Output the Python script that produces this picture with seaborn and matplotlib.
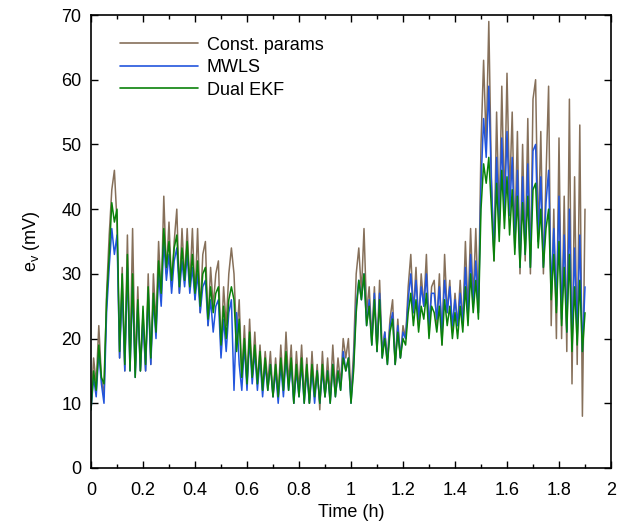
import numpy as np
import pandas as pd
import matplotlib
matplotlib.use("Agg")
import matplotlib.pyplot as plt
from matplotlib.ticker import MultipleLocator
import seaborn as sns

# Time axis (h), sampled every 0.01 h from 0 to 1.90
time_h = [round(i * 0.01, 2) for i in range(191)]

const_params = [
    9, 17, 13, 22, 14, 11, 27, 36, 43, 46, 38,
    17, 31, 15, 36, 16, 37, 15, 28, 15, 24,
    15, 30, 16, 30, 22, 35, 26, 42, 30, 38,
    28, 35, 40, 27, 37, 29, 37, 28, 37, 26,
    37, 24, 33, 35, 22, 31, 25, 30, 32, 18,
    28, 22, 30, 34, 30, 20, 26, 14, 22, 13,
    23, 14, 21, 13, 19, 12, 18, 13, 18, 11,
    17, 11, 19, 12, 21, 13, 19, 10, 18, 12,
    19, 11, 17, 10, 18, 11, 16, 9, 18, 11,
    17, 11, 19, 12, 17, 13, 20, 17, 20, 11,
    18, 30, 34, 27, 37, 24, 28, 20, 28, 18,
    29, 18, 21, 17, 23, 26, 16, 23, 17, 22,
    20, 28, 33, 24, 31, 22, 30, 25, 33, 21,
    28, 29, 22, 30, 19, 33, 24, 29, 21, 27,
    22, 29, 22, 35, 24, 37, 26, 37, 24, 50,
    63, 50, 69, 45, 32, 55, 38, 59, 40, 61,
    42, 55, 35, 52, 30, 50, 32, 54, 30, 57,
    60, 35, 52, 30, 45, 59, 22, 40, 20, 51,
    20, 42, 18, 57, 13, 45, 16, 53, 8, 40,
]

mwls = [
    9, 14, 11, 18, 13, 10, 24, 31, 37, 33, 36,
    17, 28, 15, 31, 15, 28, 14, 25, 15, 23,
    15, 27, 16, 26, 20, 30, 25, 35, 29, 33,
    27, 32, 34, 27, 32, 28, 33, 27, 31, 26,
    30, 24, 28, 29, 22, 26, 21, 25, 26, 17,
    23, 18, 24, 26, 12, 24, 16, 12, 19, 12,
    20, 13, 18, 12, 17, 11, 16, 12, 16, 11,
    15, 10, 16, 11, 17, 12, 16, 10, 15, 11,
    16, 10, 15, 10, 15, 10, 15, 10, 15, 11,
    15, 10, 16, 11, 15, 12, 18, 15, 17, 10,
    16, 25, 29, 26, 30, 22, 26, 19, 27, 18,
    27, 17, 21, 16, 22, 24, 16, 22, 17, 21,
    20, 26, 30, 24, 29, 23, 28, 25, 30, 22,
    27, 27, 23, 28, 21, 29, 24, 28, 22, 26,
    22, 27, 22, 31, 23, 33, 25, 32, 24, 44,
    54, 48, 59, 44, 33, 48, 37, 51, 39, 52,
    39, 48, 34, 46, 31, 45, 33, 47, 31, 49,
    50, 35, 45, 31, 41, 46, 27, 37, 25, 42,
    23, 36, 21, 40, 19, 34, 20, 36, 18, 28,
]

dual_ekf = [
    9, 15, 12, 19, 14, 13, 26, 33, 41, 38, 40,
    18, 30, 16, 33, 15, 30, 14, 26, 15, 25,
    16, 28, 17, 27, 21, 32, 27, 37, 31, 35,
    29, 34, 36, 28, 34, 29, 35, 28, 33, 27,
    32, 25, 30, 31, 23, 28, 24, 27, 28, 19,
    25, 20, 26, 28, 26, 18, 23, 14, 20, 13,
    21, 14, 19, 13, 18, 12, 17, 12, 16, 11,
    16, 11, 17, 12, 18, 12, 17, 10, 16, 11,
    17, 10, 16, 10, 16, 11, 15, 10, 16, 11,
    15, 10, 16, 11, 15, 12, 17, 15, 17, 10,
    15, 24, 29, 26, 30, 22, 25, 19, 26, 18,
    26, 17, 20, 16, 21, 23, 16, 21, 17, 20,
    19, 24, 27, 22, 26, 21, 25, 23, 27, 20,
    25, 24, 21, 25, 19, 26, 22, 25, 20, 24,
    20, 25, 21, 28, 22, 30, 24, 29, 23, 40,
    47, 44, 48, 40, 32, 44, 35, 46, 37, 45,
    36, 43, 33, 42, 31, 41, 33, 42, 31, 43,
    44, 34, 40, 31, 37, 40, 26, 33, 24, 35,
    22, 31, 21, 33, 18, 28, 19, 29, 18, 24,
]

series_names = ["Const. params", "MWLS", "Dual EKF"]
series_colors = ["#86705a", "#2255dd", "#0a820a"]

x_ticks = [0, 0.2, 0.4, 0.6, 0.8, 1, 1.2, 1.4, 1.6, 1.8, 2]
x_tick_labels = ["0", "0.2", "0.4", "0.6", "0.8", "1", "1.2", "1.4", "1.6", "1.8", "2"]
y_ticks = [0, 10, 20, 30, 40, 50, 60, 70]
y_tick_labels = ["0", "10", "20", "30", "40", "50", "60", "70"]

frames = []
for name, vals in zip(series_names, [const_params, mwls, dual_ekf]):
    frames.append(pd.DataFrame({"t": time_h, "e": vals, "series": name}))
df = pd.concat(frames, ignore_index=True)

sns.set_style("ticks")
plt.rcParams["font.family"] = ["Liberation Sans", "DejaVu Sans"]
plt.rcParams["mathtext.fontset"] = "custom"
plt.rcParams["mathtext.rm"] = "Liberation Sans"
plt.rcParams["text.color"] = "black"
plt.rcParams["axes.labelcolor"] = "black"
plt.rcParams["xtick.color"] = "black"
plt.rcParams["ytick.color"] = "black"

fig = plt.figure(figsize=(6.19, 5.24), dpi=100)
ax = fig.add_axes([91 / 619, 1 - 468 / 524, 520 / 619, 453 / 524])

sns.lineplot(data=df, x="t", y="e", hue="series", hue_order=series_names,
             palette=dict(zip(series_names, series_colors)), estimator=None,
             sort=False, linewidth=1.1, ax=ax, legend=True)

ax.set_xlim(0, 2)
ax.set_ylim(0, 70)
ax.set_xticks(x_ticks)
ax.set_xticklabels(x_tick_labels)
ax.set_yticks(y_ticks)
ax.set_yticklabels(y_tick_labels)
ax.xaxis.set_minor_locator(MultipleLocator(0.1))
ax.tick_params(which="both", direction="in", top=True, right=True, labelsize=13,
               color="black", labelcolor="black", width=1)
ax.tick_params(which="major", length=5)
ax.tick_params(axis="x", which="major", pad=10)
ax.tick_params(axis="y", which="major", pad=7)
ax.tick_params(which="minor", length=3)
for s in ax.spines.values():
    s.set_linewidth(1.2)
    s.set_color("black")

ax.set_xlabel("Time (h)", fontsize=13, labelpad=4, color="black")
ax.set_ylabel(r"$\mathregular{e_v}$ (mV)", fontsize=13, labelpad=14, color="black")

leg = ax.legend(loc="upper left", bbox_to_anchor=(29 / 520, 0.952), frameon=False,
                fontsize=13, handlelength=4.3, handletextpad=0.5, labelspacing=0.3,
                borderaxespad=0, borderpad=0)
for text in leg.get_texts():
    text.set_color("black")
for line in leg.get_lines():
    line.set_linewidth(1.2)

fig.savefig("out.png", dpi=100)
